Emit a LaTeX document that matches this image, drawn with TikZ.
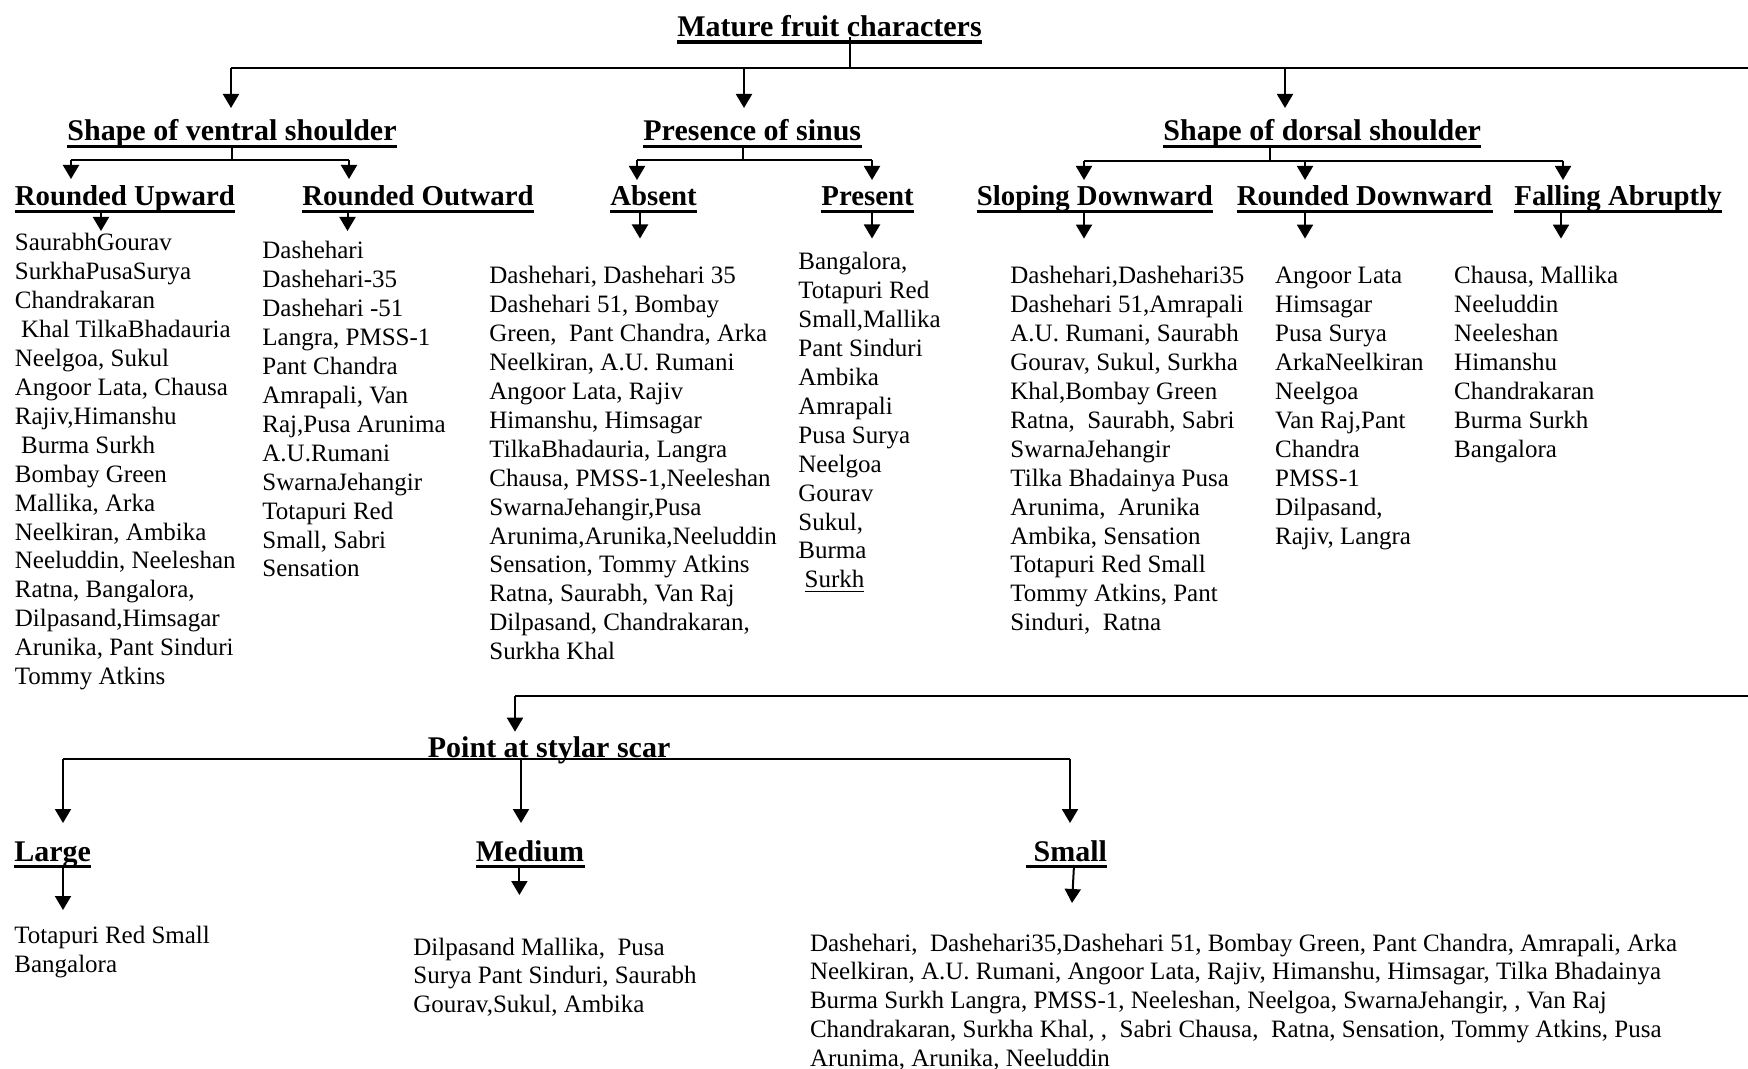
\documentclass[tikz,border=0pt]{standalone}
\usepackage{fontspec}
\setmainfont{Liberation Serif}
\usetikzlibrary{arrows.meta}
% a left-aligned column of cultivar names whose baseline is the first line
\newcommand\vlist[1]{\begin{tabular}[t]{@{}l@{}}#1\end{tabular}}
% rule under a heading, drawn through its descenders
\newcommand\headrule[3][1.5pt]{\draw[line width=#1] ([yshift=-#3]#2.base west) -- ([yshift=-#3]#2.base east);}
\begin{document}
\begin{tikzpicture}[x=0.5pt,y=-0.5pt,
  conn/.style={line width=1pt},
  arr/.style={line width=1pt,-{Triangle[width=8pt,length=7pt]}},
  lvltwo/.style={font=\bfseries\fontsize{15}{18}\selectfont,inner sep=0pt,anchor=base west,yshift=-1pt},
  lvlthree/.style={font=\bfseries\fontsize{14.4}{17}\selectfont,inner sep=0pt,anchor=base west,yshift=-1pt},
  cultivars/.style={font=\fontsize{12.5}{14.45}\selectfont,inner sep=0pt,anchor=base west,yshift=-1pt},
]
\fill[white] (0,0) rectangle (1748,1069);
\useasboundingbox (0,0) rectangle (1748,1069);

% ---------- root ----------
\node[lvltwo] (title) at (677,35) {Mature fruit characters};
\headrule[2pt]{title}{2.5pt}

% ---------- second level ----------
\node[lvltwo] (vent)  at (67,139)   {Shape of ventral shoulder\hspace{0.25em}};
\node[lvltwo] (sinus) at (643,139)  {Presence of sinus};
\node[lvltwo] (dors)  at (1163,139) {Shape of dorsal shoulder};
\headrule{vent}{3pt}
\headrule{sinus}{3pt}
\headrule{dors}{3pt}

% ---------- third level ----------
\node[lvlthree] (ru)    at (14.5,204)   {Rounded Upward};
\node[lvlthree] (ro)    at (302,204)    {Rounded Outward};
\node[lvlthree] (abs)   at (610,204)    {Absent};
\node[lvlthree] (pres)  at (821,204)    {Present};
\node[lvlthree] (slop)  at (976.5,204)  {Sloping Downward\hspace{0.25em}};
\node[lvlthree] (rdown) at (1236.5,204) {Rounded Downward};
\node[lvlthree] (fall)  at (1514,204)   {Falling Abruptly};
\foreach \n in {ru,ro,abs,pres,slop,rdown,fall} {\headrule{\n}{3pt}}

% ---------- cultivar lists ----------
\node[cultivars] (rul) at (14.5,249) {\vlist{SaurabhGourav\\SurkhaPusaSurya\\Chandrakaran\\\hspace{0.25em}Khal TilkaBhadauria\\Neelgoa, Sukul\\Angoor Lata, Chausa\\Rajiv,Himanshu\\\hspace{0.25em}Burma Surkh\\Bombay Green\\Mallika, Arka\\Neelkiran, Ambika\\Neeluddin, Neeleshan\\Ratna, Bangalora,\\Dilpasand,Himsagar\\Arunika, Pant Sinduri\\Tommy Atkins}};
\node[cultivars] (rol) at (262,257) {\vlist{Dashehari\\Dashehari-35\\Dashehari -51\\Langra, PMSS-1\\Pant Chandra\\Amrapali, Van\\Raj,Pusa Arunima\\A.U.Rumani\\SwarnaJehangir\\Totapuri Red\\Small, Sabri\\Sensation}};
\node[cultivars] (absl) at (489,282) {\vlist{Dashehari, Dashehari 35\\Dashehari 51, Bombay\\Green,\ \ Pant Chandra, Arka\\Neelkiran, A.U. Rumani\\Angoor Lata, Rajiv\\Himanshu, Himsagar\\TilkaBhadauria, Langra\\Chausa, PMSS-1,Neeleshan\\SwarnaJehangir,Pusa\\Arunima,Arunika,Neeluddin\\Sensation, Tommy Atkins\\Ratna, Saurabh, Van Raj\\Dilpasand, Chandrakaran,\\Surkha Khal}};
\node[cultivars] (presl) at (798,268) {\vlist{Bangalora,\\Totapuri Red\\Small,Mallika\\Pant Sinduri\\Ambika\\Amrapali\\Pusa Surya\\Neelgoa\\Gourav\\Sukul,\\Burma\\\hspace{0.25em}\underline{Surkh}}};
\node[cultivars] (slopl) at (1010,282) {\vlist{Dashehari,Dashehari35\\Dashehari 51,Amrapali\\A.U. Rumani, Saurabh\\Gourav, Sukul, Surkha\\Khal,Bombay Green\\Ratna,\ \ Saurabh, Sabri\\SwarnaJehangir\\Tilka Bhadainya Pusa\\Arunima,\ \ Arunika\\Ambika, Sensation\\Totapuri Red Small\\Tommy Atkins, Pant\\Sinduri,\ \ Ratna}};
\node[cultivars] (rdownl) at (1274.7,282) {\vlist{Angoor Lata\\Himsagar\\Pusa Surya\\ArkaNeelkiran\\Neelgoa\\Van Raj,Pant\\Chandra\\PMSS-1\\Dilpasand,\\Rajiv, Langra}};
\node[cultivars] (falll) at (1453.8,282) {\vlist{Chausa, Mallika\\Neeluddin\\Neeleshan\\Himanshu\\Chandrakaran\\Burma Surkh\\Bangalora}};

% ---------- stylar scar branch ----------
\node[lvltwo] (stylar) at (427.5,755) {Point at stylar scar};
\node[lvltwo] (large)  at (14,859)    {Large};
\node[lvltwo] (medium) at (475.5,859) {Medium};
\node[lvltwo] (small)  at (1025.7,859) {\hspace{0.25em}Small};
\foreach \n in {large,medium,small} {\headrule{\n}{2.5pt}}

\node[cultivars] (largel)  at (14,941.5) {\vlist{Totapuri Red Small\\Bangalora}};
\node[cultivars] (mediuml) at (413,953)  {\vlist{Dilpasand Mallika,\ \ Pusa\\Surya Pant Sinduri, Saurabh\\Gourav,Sukul, Ambika}};
\node[cultivars] (smalll)  at (809.6,949) {\vlist{Dashehari,\ \ Dashehari35,Dashehari 51, Bombay Green, Pant Chandra, Amrapali, Arka\\Neelkiran, A.U. Rumani, Angoor Lata, Rajiv, Himanshu, Himsagar, Tilka Bhadainya\\Burma Surkh Langra, PMSS-1, Neeleshan, Neelgoa, SwarnaJehangir, , Van Raj\\Chandrakaran, Surkha Khal, ,\ \ Sabri Chausa,\ \ Ratna, Sensation, Tommy Atkins, Pusa\\Arunima, Arunika, Neeluddin}};

% ---------- junction points ----------
\coordinate (j0)  at (849.5,68);
\coordinate (j0w) at (231,68);
\coordinate (j0e) at (1748,68);
\coordinate (ventin)  at (231,108);
\coordinate (sinusin) at (744,108);
\coordinate (dorsin)  at (1285,108);

\coordinate (j1t) at (232,147);   \coordinate (j1) at (232,160.5);
\coordinate (j1w) at (71,160.5);  \coordinate (j1e) at (349,160.5);
\coordinate (ruin) at (71,179);   \coordinate (roin) at (349,179);
\coordinate (rua) at (101,212);   \coordinate (rub) at (101,231);
\coordinate (roa) at (347.5,212); \coordinate (rob) at (347.5,231);

\coordinate (j2t) at (743,147);   \coordinate (j2) at (743,160.5);
\coordinate (j2w) at (637,160.5); \coordinate (j2e) at (872,160.5);
\coordinate (absin) at (637,180); \coordinate (presin) at (872,180);
\coordinate (absa) at (640,212);  \coordinate (absb) at (640,238.5);
\coordinate (presa) at (872,212); \coordinate (presb) at (872,238.5);

\coordinate (j3t) at (1269.6,147); \coordinate (j3) at (1269.6,160.7);
\coordinate (j3w) at (1084,160.7); \coordinate (j3m) at (1305,160.7); \coordinate (j3e) at (1563,160.7);
\coordinate (slopin) at (1084,180); \coordinate (rdownin) at (1305,180); \coordinate (fallin) at (1563,180);
\coordinate (slopa) at (1084,211);  \coordinate (slopb) at (1084,238.6);
\coordinate (rdowna) at (1305,211); \coordinate (rdownb) at (1305,238.6);
\coordinate (falla) at (1561,211);  \coordinate (fallb) at (1561,238.6);

\coordinate (j4w) at (515,695.5); \coordinate (j4e) at (1748,695.5);
\coordinate (stylarin) at (515,731.7);
\coordinate (j5w) at (63,759.3); \coordinate (j5m) at (521,759.3); \coordinate (j5e) at (1070,759.3);
\coordinate (largein) at (63,823); \coordinate (mediumin) at (521,823); \coordinate (smallin) at (1070,823);
\coordinate (largea) at (63,865);    \coordinate (largeb) at (63,910);
\coordinate (mediuma) at (519.4,865); \coordinate (mediumb) at (519.4,895);
\coordinate (smalla) at (1074,865);  \coordinate (smallb) at (1072,903);

% ---------- connectors ----------
\draw[conn] (title.base -| j0) -- (j0);
\draw[conn] (j0w) -- (j0e);
\draw[arr] (j0w) -- (ventin);
\draw[arr] (j0 -| sinusin) -- (sinusin);
\draw[arr] (j0 -| dorsin) -- (dorsin);

\draw[conn] (j1t) -- (j1);
\draw[conn] (j1w) -- (j1e);
\draw[arr] (j1w) -- (ruin);
\draw[arr] (j1e) -- (roin);
\draw[arr] (rua) -- (rub);
\draw[arr] (roa) -- (rob);

\draw[conn] (j2t) -- (j2);
\draw[conn] (j2w) -- (j2e);
\draw[arr] (j2w) -- (absin);
\draw[arr] (j2e) -- (presin);
\draw[arr] (absa) -- (absb);
\draw[arr] (presa) -- (presb);

\draw[conn] (j3t) -- (j3);
\draw[conn] (j3w) -- (j3e);
\draw[arr] (j3w) -- (slopin);
\draw[arr] (j3m) -- (rdownin);
\draw[arr] (j3e) -- (fallin);
\draw[arr] (slopa) -- (slopb);
\draw[arr] (rdowna) -- (rdownb);
\draw[arr] (falla) -- (fallb);

\draw[conn] (j4w) -- (j4e);
\draw[arr] (j4w) -- (stylarin);
\draw[conn] (j5w) -- (j5e);
\draw[arr] (j5w) -- (largein);
\draw[arr] (j5m) -- (mediumin);
\draw[arr] (j5e) -- (smallin);
\draw[arr] (largea) -- (largeb);
\draw[arr] (mediuma) -- (mediumb);
\draw[arr] (smalla) -- (smallb);
\end{tikzpicture}
\end{document}
